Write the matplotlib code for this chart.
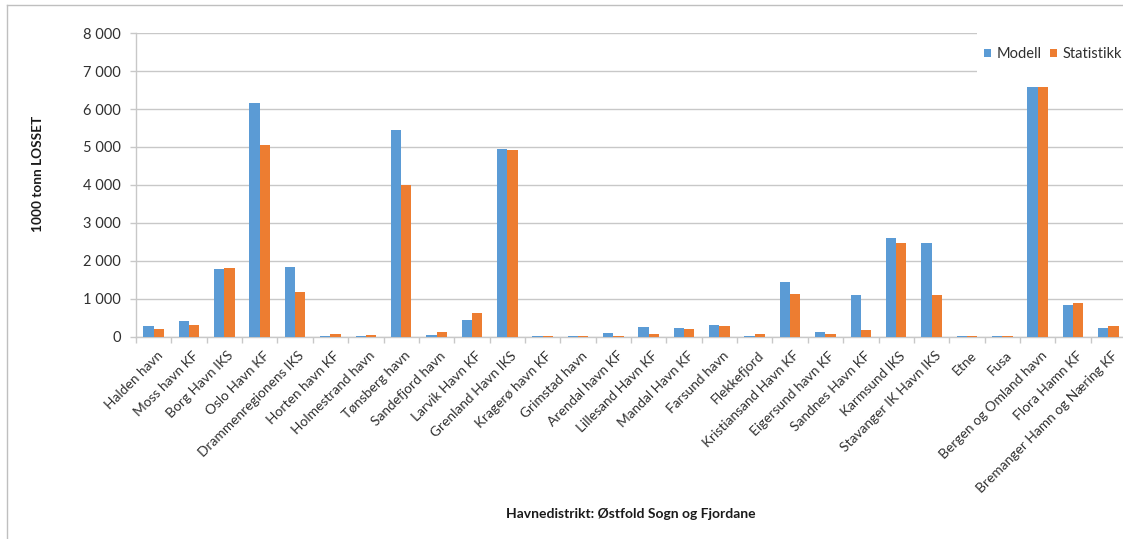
import matplotlib
matplotlib.use("Agg")
import matplotlib.pyplot as plt
import matplotlib.transforms as mtransforms
import numpy as np
from matplotlib.patches import Rectangle, Patch
from matplotlib.lines import Line2D
from matplotlib.ticker import FuncFormatter, FixedLocator

plt.rcParams['font.family'] = ['Lato', 'DejaVu Sans']

havner = [
    "Halden havn", "Moss havn KF", "Borg Havn IKS", "Oslo Havn KF",
    "Drammenregionens IKS", "Horten havn KF", "Holmestrand havn",
    "Tønsberg havn", "Sandefjord havn", "Larvik Havn KF", "Grenland Havn IKS",
    "Kragerø havn KF", "Grimstad havn", "Arendal havn KF", "Lillesand Havn KF",
    "Mandal Havn KF", "Farsund havn", "Flekkefjord", "Kristiansand Havn KF",
    "Eigersund havn KF", "Sandnes Havn KF", "Karmsund IKS",
    "Stavanger IK Havn IKS", "Etne", "Fusa", "Bergen og Omland havn",
    "Flora Hamn KF", "Bremanger Hamn og Næring KF",
]

modell = [297, 429, 1785, 6160, 1840, 34, 26, 5450, 52, 455, 4940,
          34, 20, 113, 271, 245, 324, 25, 1447, 140, 1095, 2610,
          2480, 20, 20, 6580, 832, 237]

statistikk = [218, 316, 1820, 5060, 1184, 87, 60, 4000, 122, 640, 4920,
              25, 20, 34, 79, 200, 279, 68, 1140, 87, 184, 2480,
              1113, 34, 20, 6580, 895, 297]

blue = "#5B9BD5"
orange = "#ED7D31"
grid_c = "#C8C8C8"
text_c = "#303030"

W, H = 1123, 539
fig = plt.figure(figsize=(W / 100, H / 100), dpi=100)

left_px, right_px, top_px, base_px = 136, 1126, 33, 337
ax = fig.add_axes([left_px / W, 1 - base_px / H,
                   (right_px - left_px) / W, (base_px - top_px) / H])

x = np.arange(len(havner))
bw = 0.29
ax.bar(x - bw / 2, modell, width=bw, color=blue, zorder=3, label="Modell")
ax.bar(x + bw / 2, statistikk, width=bw, color=orange, zorder=3, label="Statistikk")

ax.set_xlim(-0.5, len(havner) - 0.5)
ax.set_ylim(0, 8000)
ax.set_yticks(np.arange(0, 8001, 1000))
ax.yaxis.set_major_formatter(FuncFormatter(lambda v, p: f"{int(v):,}".replace(",", " ")))
ax.grid(axis="y", color=grid_c, linewidth=1, zorder=0)
ax.set_axisbelow(True)

for s in ["top", "right"]:
    ax.spines[s].set_visible(False)
for s in ["left", "bottom"]:
    ax.spines[s].set_color(grid_c)
    ax.spines[s].set_linewidth(1)

ax.tick_params(axis="y", length=4, width=1, color=grid_c, pad=7,
               labelsize=10.5, labelcolor=text_c)

# category boundary ticks on the x axis, labels at category centres
ax.xaxis.set_major_locator(FixedLocator(np.arange(-0.5, len(havner), 1.0)))
ax.xaxis.set_major_formatter(FuncFormatter(lambda v, p: ""))
ax.xaxis.set_minor_locator(FixedLocator(x))
ax.set_xticklabels(havner, minor=True, rotation=45, ha="right",
                   rotation_mode="anchor", fontsize=9.9, color=text_c)
ax.tick_params(axis="x", which="major", length=4, width=1, color=grid_c)
ax.tick_params(axis="x", which="minor", length=0, pad=9)
shift = mtransforms.ScaledTranslation(3 / 100, 0, fig.dpi_scale_trans)
for lbl in ax.get_xticklabels(minor=True):
    lbl.set_transform(lbl.get_transform() + shift)

ax.set_xlabel("Havnedistrikt: Østfold Sogn og Fjordane", fontsize=10,
              fontweight="bold", color="#1a1a1a")
ax.xaxis.set_label_coords(0.5, -(514 - base_px) / (base_px - top_px),
                          transform=ax.transAxes)
ax.xaxis.label.set_va("center")
fig.text(38 / W, 1 - 174 / H, "1000 tonn LOSSET", rotation=90, fontsize=9.8,
         fontweight="bold", color="#1a1a1a", ha="center", va="center")

# white box behind the legend
fig.add_artist(Rectangle((977 / W, 1 - 76 / H), (W - 977) / W, 46 / H,
                         transform=fig.transFigure, facecolor="white",
                         edgecolor="none", zorder=5))
handles = [Patch(facecolor=blue, edgecolor="none"),
           Patch(facecolor=orange, edgecolor="none")]
leg = fig.legend(handles, ["Modell", "Statistikk"], ncol=2, frameon=False,
                 loc="center left", bbox_to_anchor=(984 / W, 1 - 54 / H),
                 fontsize=10.5, handlelength=0.5, handleheight=0.5,
                 handletextpad=0.35, columnspacing=0.6, borderpad=0,
                 borderaxespad=0, labelcolor=text_c)
leg.set_zorder(6)

# chart border (left and top edges)
fig.add_artist(Line2D([7 / W, 7 / W], [0, 1 - 5 / H], transform=fig.transFigure,
                      color="#BFBFBF", linewidth=1))
fig.add_artist(Line2D([7 / W, 1], [1 - 5 / H, 1 - 5 / H], transform=fig.transFigure,
                      color="#BFBFBF", linewidth=1))

fig.savefig("out.png", dpi=100, facecolor="white")
